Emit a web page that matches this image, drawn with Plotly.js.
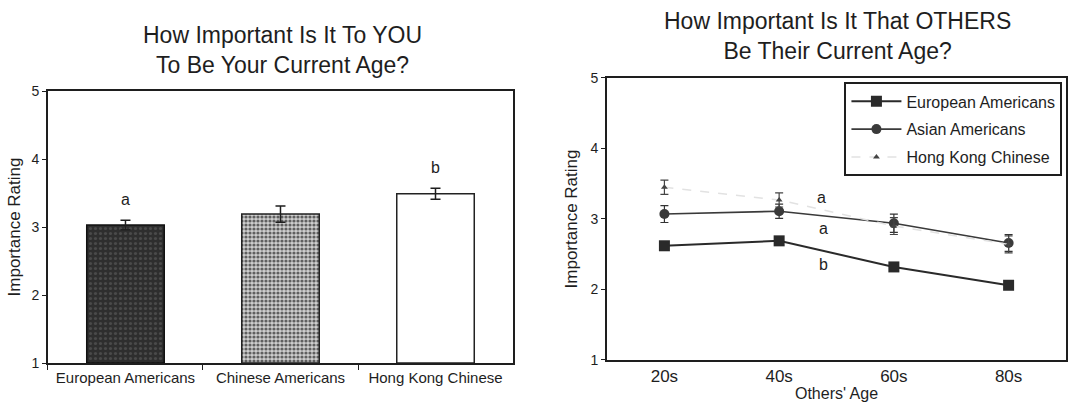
<!DOCTYPE html>
<html>
<head>
<meta charset="utf-8">
<script src="https://cdn.plot.ly/plotly-3.0.1.min.js"></script>
<style>
html,body{margin:0;padding:0;background:#fff;}
#chart{width:1071px;height:402px;}
</style>
</head>
<body>
<div id="chart"></div>
<script>
// ---- Left panel data ----
const leftCats = ['European Americans', 'Chinese Americans', 'Hong Kong Chinese'];
const leftVals = [3.03, 3.19, 3.49];
const leftErr = [0.07, 0.12, 0.08];
const leftLetters = ['a', '', 'b'];

// ---- Right panel data ----
const ageCats = ['20s', '40s', '60s', '80s'];
const euroVals = [2.62, 2.69, 2.32, 2.06];
const euroErr = [0.03, 0.03, 0.03, 0.03];
const asianVals = [3.07, 3.11, 2.94, 2.66];
const asianErr = [0.12, 0.10, 0.13, 0.12];
const hkVals = [3.45, 3.27, 2.90, 2.64];
const hkErr = [0.10, 0.10, 0.12, 0.12];
const yTicks = [1, 2, 3, 4, 5];

const FONT = 'Liberation Sans, Arial, sans-serif';
const INK = '#1e1e1e';

const traces = [
  {
    type: 'bar', x: [leftCats[0]], y: [leftVals[0] - 1], base: 1,
    xaxis: 'x', yaxis: 'y', width: 0.5, showlegend: false,
    marker: {color: '#333333', line: {color: '#111', width: 1.5},
             pattern: {shape: '.', fgcolor: '#4a4a4a', bgcolor: '#2e2e2e', size: 5, solidity: 0.3}},
    error_y: {type: 'data', array: [leftErr[0]], color: INK, thickness: 1.5, width: 5}
  },
  {
    type: 'bar', x: [leftCats[1]], y: [leftVals[1] - 1], base: 1,
    xaxis: 'x', yaxis: 'y', width: 0.5, showlegend: false,
    marker: {color: '#a8a8a8', line: {color: '#222', width: 1.5},
             pattern: {shape: '.', fgcolor: '#5e5e5e', bgcolor: '#cfcfcf', size: 4, solidity: 0.5}},
    error_y: {type: 'data', array: [leftErr[1]], color: INK, thickness: 1.5, width: 5}
  },
  {
    type: 'bar', x: [leftCats[2]], y: [leftVals[2] - 1], base: 1,
    xaxis: 'x', yaxis: 'y', width: 0.5, showlegend: false,
    marker: {color: '#ffffff', line: {color: '#222', width: 1.5}},
    error_y: {type: 'data', array: [leftErr[2]], color: INK, thickness: 1.5, width: 5}
  },
  {
    type: 'scatter', mode: 'lines+markers', name: 'European Americans', legendgroup: 'g1',
    x: ageCats, y: euroVals, xaxis: 'x2', yaxis: 'y2',
    line: {color: '#2a2a2a', width: 2},
    marker: {symbol: 'square', size: 11, color: '#2a2a2a'},
    error_y: {type: 'data', array: euroErr, color: '#2a2a2a', thickness: 1.2, width: 4}
  },
  {
    type: 'scatter', mode: 'lines+markers', name: 'Asian Americans', legendgroup: 'g2',
    x: ageCats, y: asianVals, xaxis: 'x2', yaxis: 'y2',
    line: {color: '#3a3a3a', width: 1.6},
    marker: {symbol: 'circle', size: 10, color: '#3a3a3a'},
    error_y: {type: 'data', array: asianErr, color: '#333', thickness: 1.2, width: 4}
  },
  {
    type: 'scatter', mode: 'lines+markers', name: 'Hong Kong Chinese', legendgroup: 'g3',
    x: ageCats, y: hkVals, xaxis: 'x2', yaxis: 'y2',
    line: {color: '#e2e2e2', width: 1.5, dash: 'dash'},
    marker: {symbol: 'triangle-up', size: 6, color: '#444'},
    error_y: {type: 'data', array: hkErr, color: '#444', thickness: 1.2, width: 4}
  }
];

const annotations = [
  {text: 'How Important Is It To YOU<br>To Be Your Current Age?', xref: 'paper', yref: 'paper',
   x: 0.264, y: 0.95, xanchor: 'center', yanchor: 'top', showarrow: false,
   font: {family: FONT, size: 23, color: INK}},
  {text: 'How Important Is It That OTHERS<br>Be Their Current Age?', xref: 'paper', yref: 'paper',
   x: 0.782, y: 0.985, xanchor: 'center', yanchor: 'top', showarrow: false,
   font: {family: FONT, size: 23, color: INK}},
  {text: 'a', xref: 'x2', yref: 'y2', x: 1.37, y: 3.30, showarrow: false,
   font: {family: FONT, size: 16, color: INK}},
  {text: 'a', xref: 'x2', yref: 'y2', x: 1.39, y: 2.87, showarrow: false,
   font: {family: FONT, size: 16, color: INK}},
  {text: 'b', xref: 'x2', yref: 'y2', x: 1.39, y: 2.35, showarrow: false,
   font: {family: FONT, size: 16, color: INK}}
];
leftCats.forEach((c, i) => {
  if (leftLetters[i]) {
    annotations.push({text: leftLetters[i], xref: 'x', yref: 'y', x: c, y: leftVals[i] + leftErr[i],
      yanchor: 'bottom', yshift: 10, showarrow: false, font: {family: FONT, size: 16, color: INK}});
  }
});

const axisCommon = {
  showline: true, linecolor: INK, linewidth: 2, mirror: true,
  showgrid: false, zeroline: false, ticks: 'outside', ticklen: 4, tickcolor: INK,
  tickfont: {family: FONT, size: 15, color: INK}
};

const layout = {
  width: 1071, height: 402,
  margin: {l: 0, r: 0, t: 0, b: 0},
  paper_bgcolor: '#ffffff', plot_bgcolor: '#ffffff',
  font: {family: FONT, color: INK},
  showlegend: true,
  legend: {
    x: 0.992, y: 0.795, xanchor: 'right', yanchor: 'top',
    bordercolor: INK, borderwidth: 2, bgcolor: '#ffffff',
    font: {family: FONT, size: 16, color: INK},
    itemwidth: 50, tracegroupgap: 4
  },
  xaxis: Object.assign({}, axisCommon, {
    domain: [0.0448, 0.479], anchor: 'y', type: 'category',
    tickson: 'boundaries', ticklen: 5
  }),
  yaxis: Object.assign({}, axisCommon, {
    domain: [0.097, 0.7736], anchor: 'x', range: [1, 5],
    tickvals: yTicks, ticktext: yTicks.map(String),
    title: {text: 'Importance Rating', font: {family: FONT, size: 17, color: INK}, standoff: 6},
    tickfont: {family: FONT, size: 14, color: INK}
  }),
  xaxis2: Object.assign({}, axisCommon, {
    domain: [0.5668, 0.9953], anchor: 'y2', type: 'category', range: [-0.5, 3.5],
    ticks: '', tickfont: {family: FONT, size: 17, color: INK},
    title: {text: "Others' Age", font: {family: FONT, size: 16, color: INK}, standoff: 2}
  }),
  yaxis2: Object.assign({}, axisCommon, {
    domain: [0.1045, 0.806], anchor: 'x2', range: [1, 5],
    tickvals: yTicks, ticktext: yTicks.map(String),
    title: {text: 'Importance Rating', font: {family: FONT, size: 17, color: INK}, standoff: 8},
    tickfont: {family: FONT, size: 14, color: INK}
  }),
  bargap: 0.5,
  annotations: annotations
};

Plotly.newPlot('chart', traces, layout, {displayModeBar: false, staticPlot: true});
</script>
</body>
</html>
